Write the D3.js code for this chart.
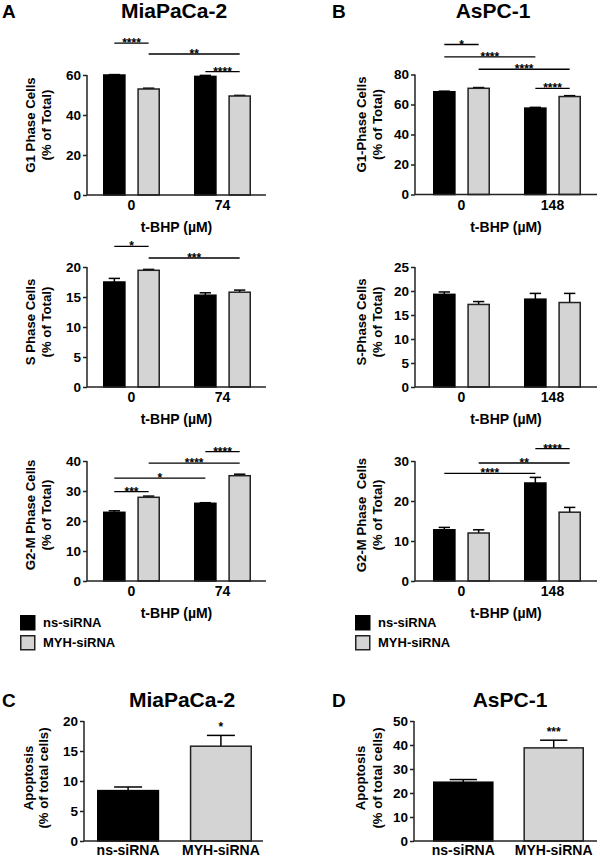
<!DOCTYPE html>
<html>
<head>
<meta charset="utf-8">
<script src="https://cdn.jsdelivr.net/npm/d3@7"></script>
<style>
  html, body { margin: 0; padding: 0; background: #fff; }
  svg { display: block; }
  text { font-family: 'Liberation Sans', Arial, Helvetica, sans-serif; font-weight: bold; fill: #000; }
</style>
</head>
<body>
<svg id="chart" width="600" height="858"></svg>
<script>
// ---------------- DATA ----------------
const series = ["ns-siRNA", "MYH-siRNA"];
const doseMia = ["0", "74"];
const doseAs = ["0", "148"];

// G1 phase (% of total)
const g1MiaNs = [60.0, 59.3], g1MiaNsErr = [0.2, 0.5];
const g1MiaMyh = [53.0, 49.5], g1MiaMyhErr = [0.4, 0.3];
const g1AsNs = [68.5, 57.6], g1AsNsErr = [0.4, 0.5];
const g1AsMyh = [70.8, 65.3], g1AsMyhErr = [0.5, 0.6];

// S phase
const sMiaNs = [17.5, 15.3], sMiaNsErr = [0.6, 0.4];
const sMiaMyh = [19.45, 15.8], sMiaMyhErr = [0.15, 0.35];
const sAsNs = [19.3, 18.3], sAsNsErr = [0.5, 1.2];
const sAsMyh = [17.2, 17.6], sAsMyhErr = [0.6, 1.9];

// G2-M phase
const g2MiaNs = [22.9, 25.9], g2MiaNsErr = [0.5, 0.2];
const g2MiaMyh = [27.9, 35.1], g2MiaMyhErr = [0.4, 0.5];
const g2AsNs = [12.8, 24.5], g2AsNsErr = [0.6, 1.4];
const g2AsMyh = [12.0, 17.2], g2AsMyhErr = [0.8, 1.2];

// Apoptosis (% of total cells)
const apoMia = [8.4, 15.8], apoMiaErr = [0.6, 1.8];
const apoAs = [24.5, 38.8], apoAsErr = [1.1, 3.2];

// Y-axis ticks
const ticksG1Mia = [0, 20, 40, 60];
const ticksG1As = [0, 20, 40, 60, 80];
const ticksSMia = [0, 5, 10, 15, 20];
const ticksSAs = [0, 5, 10, 15, 20, 25];
const ticksG2Mia = [0, 10, 20, 30, 40];
const ticksG2As = [0, 10, 20, 30];
const ticksApoMia = [0, 5, 10, 15, 20];
const ticksApoAs = [0, 10, 20, 30, 40, 50];

// Significance brackets: [group, series] -> [group, series], level in data units
const sigG1Mia = [
  { a: [0, 0], b: [0, 1], level: 75.9, label: "****" },
  { a: [0, 1], b: [1, 1], level: 70.5, label: "**" },
  { a: [1, 0], b: [1, 1], level: 61.7, label: "****" }
];
const sigG1As = [
  { a: [0, 0], b: [0, 1], level: 100, label: "*" },
  { a: [0, 0], b: [1, 0], level: 91.7, label: "****" },
  { a: [0, 1], b: [1, 1], level: 83.5, label: "****" },
  { a: [1, 0], b: [1, 1], level: 70.7, label: "****" }
];
const sigSMia = [
  { a: [0, 0], b: [0, 1], level: 23.45, label: "*" },
  { a: [0, 1], b: [1, 1], level: 21.5, label: "***" }
];
const sigSAs = [];
const sigG2Mia = [
  { a: [1, 0], b: [1, 1], level: 43.1, label: "****" },
  { a: [0, 1], b: [1, 1], level: 39.3, label: "****" },
  { a: [0, 0], b: [1, 0], level: 34.3, label: "*" },
  { a: [0, 0], b: [0, 1], level: 29.8, label: "***" }
];
const sigG2As = [
  { a: [1, 0], b: [1, 1], level: 33.1, label: "****" },
  { a: [0, 1], b: [1, 1], level: 29.5, label: "**" },
  { a: [0, 0], b: [1, 0], level: 26.9, label: "****" }
];
const sigApoMia = ["", "*"];
const sigApoAs = ["", "***"];

// ---------------- DRAWING ----------------
const svg = d3.select("#chart");
const fills = ["#000000", "#d4d4d4"];
const strokes = ["#000000", "#222222"];
const PH = 120; // plot height

function yAxis(g, y, x0, ticks, domainMax) {
  const ax = d3.axisLeft(y).tickValues(ticks).tickSize(4).tickPadding(2).tickFormat(d3.format("d"));
  const gg = g.append("g").attr("transform", `translate(${x0},0)`).call(ax);
  gg.select(".domain").remove();
  gg.append("line").attr("x1", 0).attr("x2", 0).attr("y1", y(0)).attr("y2", y(domainMax))
    .attr("stroke", "#222").attr("stroke-width", 1.5);
  gg.selectAll(".tick line").attr("stroke", "#222").attr("stroke-width", 1.5);
  gg.selectAll(".tick text").attr("font-size", 13.5).attr("font-family", null).attr("fill", "#000");
}

function yLabel(g, lines, xs, cy) {
  lines.forEach((t, i) => {
    g.append("text").attr("transform", `translate(${xs[i]},${cy}) rotate(-90)`)
      .attr("text-anchor", "middle").attr("dy", "0.35em").attr("font-size", 13.2)
      .style("white-space", "pre").text(t);
  });
}

function groupedPanel(o) {
  const g = svg.append("g");
  const y = d3.scaleLinear().domain([0, o.max]).range([o.y0, o.y0 - PH]);
  const outer = d3.scaleBand().domain(o.groups).range(o.bandRange).paddingInner(0.374).paddingOuter(0);
  const inner = d3.scaleBand().domain(series).range([0, outer.bandwidth()]).paddingInner(0.34).paddingOuter(0);
  const data = [];
  o.groups.forEach((gr, gi) => {
    series.forEach((s, si) => {
      data.push({ gr, s, si, gi, v: o.vals[si][gi], e: o.errs[si][gi] });
    });
  });
  const cx = (gi, si) => outer(o.groups[gi]) + inner(series[si]) + inner.bandwidth() / 2;
  // error bars
  data.forEach(d => {
    const x = cx(d.gi, d.si);
    const cw = inner.bandwidth() * 0.5;
    g.append("line").attr("x1", x).attr("x2", x).attr("y1", y(d.v)).attr("y2", y(d.v + d.e))
      .attr("stroke", "#000").attr("stroke-width", 1.5);
    g.append("line").attr("x1", x - cw / 2).attr("x2", x + cw / 2).attr("y1", y(d.v + d.e)).attr("y2", y(d.v + d.e))
      .attr("stroke", "#000").attr("stroke-width", 1.5);
  });
  g.selectAll("rect.bar").data(data).enter().append("rect").attr("class", "bar")
    .attr("x", d => outer(d.gr) + inner(d.s) + 0.75)
    .attr("width", inner.bandwidth() - 1.5)
    .attr("y", d => y(d.v))
    .attr("height", d => y(0) - y(d.v))
    .attr("fill", d => fills[d.si]).attr("stroke", d => strokes[d.si]).attr("stroke-width", 1.5);
  // x axis line
  g.append("line").attr("x1", o.x0).attr("x2", o.xEnd).attr("y1", o.y0).attr("y2", o.y0)
    .attr("stroke", "#222").attr("stroke-width", 1.5);
  yAxis(g, y, o.x0, o.ticks, o.max);
  // x tick labels
  o.groups.forEach(gr => {
    g.append("text").attr("x", outer(gr) + outer.bandwidth() / 2).attr("y", o.y0 + 15)
      .attr("text-anchor", "middle").attr("font-size", 14).text(gr);
  });
  g.append("text").attr("x", (o.x0 + o.xEnd) / 2).attr("y", o.y0 + 37)
    .attr("text-anchor", "middle").attr("font-size", 14).text("t-BHP (\u00B5M)");
  yLabel(g, o.ylabel, o.ylx, o.y0 - o.ylOff);
  // significance
  o.sig.forEach(s => {
    const xa = cx(s.a[0], s.a[1]), xb = cx(s.b[0], s.b[1]);
    const yy = y(s.level);
    g.append("line").attr("x1", xa).attr("x2", xb).attr("y1", yy).attr("y2", yy)
      .attr("stroke", "#000").attr("stroke-width", 1.3);
    g.append("text").attr("x", (xa + xb) / 2).attr("y", yy + 4).attr("text-anchor", "middle")
      .attr("font-size", 12).text(s.label);
  });
}

function simplePanel(o) {
  const g = svg.append("g");
  const y = d3.scaleLinear().domain([0, o.max]).range([o.y0, o.y0 - PH]);
  const x = d3.scaleBand().domain(series).range(o.bandRange).paddingInner(0.33).paddingOuter(0);
  const data = series.map((s, i) => ({ s, i, v: o.vals[i], e: o.errs[i], sig: o.sig[i] }));
  data.forEach(d => {
    const cx = x(d.s) + x.bandwidth() / 2;
    const cw = x.bandwidth() * 0.45;
    g.append("line").attr("x1", cx).attr("x2", cx).attr("y1", y(d.v)).attr("y2", y(d.v + d.e))
      .attr("stroke", "#000").attr("stroke-width", 1.5);
    g.append("line").attr("x1", cx - cw / 2).attr("x2", cx + cw / 2).attr("y1", y(d.v + d.e)).attr("y2", y(d.v + d.e))
      .attr("stroke", "#000").attr("stroke-width", 1.5);
    if (d.sig) {
      g.append("text").attr("x", cx).attr("y", y(d.v + d.e) - 4).attr("text-anchor", "middle")
        .attr("font-size", 12).text(d.sig);
    }
  });
  g.selectAll("rect.bar").data(data).enter().append("rect")
    .attr("x", d => x(d.s) + 0.75).attr("width", x.bandwidth() - 1.5)
    .attr("y", d => y(d.v)).attr("height", d => y(0) - y(d.v))
    .attr("fill", d => fills[d.i]).attr("stroke", d => strokes[d.i]).attr("stroke-width", 1.5);
  g.append("line").attr("x1", o.x0).attr("x2", o.xEnd).attr("y1", o.y0).attr("y2", o.y0)
    .attr("stroke", "#222").attr("stroke-width", 1.5);
  yAxis(g, y, o.x0, o.ticks, o.max);
  series.forEach(s => {
    g.append("text").attr("x", x(s) + x.bandwidth() / 2).attr("y", o.y0 + 14)
      .attr("text-anchor", "middle").attr("font-size", 14).text(s);
  });
  yLabel(g, o.ylabel, o.ylx, o.y0 - 63);
}

function title(letter, lx, name, cx, yb) {
  svg.append("text").attr("x", lx).attr("y", yb).attr("font-size", 19).text(letter);
  svg.append("text").attr("x", cx).attr("y", yb).attr("text-anchor", "middle").attr("font-size", 21).text(name);
}

function legend(x, y) {
  series.forEach((s, i) => {
    svg.append("rect").attr("x", x + 0.75).attr("y", y + i * 20 + 0.75).attr("width", 14).attr("height", 14)
      .attr("fill", fills[i]).attr("stroke", strokes[i]).attr("stroke-width", 1.5);
    svg.append("text").attr("x", x + 23).attr("y", y + i * 20 + 12).attr("font-size", 13).text(s);
  });
}

// Titles
title("A", 2, "MiaPaCa-2", 174, 18);
title("B", 332, "AsPC-1", 493, 18);
title("C", 2, "MiaPaCa-2", 182, 707);
title("D", 332, "AsPC-1", 510, 707);

const colA = { x0: 87, xEnd: 266, bandRange: [103, 251], ylx: [30, 46] };
const colB = { x0: 415, xEnd: 597, bandRange: [433, 581], ylx: [361, 377] };

groupedPanel(Object.assign({}, colA, { y0: 195, max: 60, ticks: ticksG1Mia, groups: doseMia,
  vals: [g1MiaNs, g1MiaMyh], errs: [g1MiaNsErr, g1MiaMyhErr], ylabel: ["G1 Phase Cells", "(% of Total)"], ylOff: 70, sig: sigG1Mia }));
groupedPanel(Object.assign({}, colB, { y0: 194.5, max: 80, ticks: ticksG1As, groups: doseAs,
  vals: [g1AsNs, g1AsMyh], errs: [g1AsNsErr, g1AsMyhErr], ylabel: ["G1-Phase Cells", "(% of Total)"], ylOff: 70, sig: sigG1As }));
groupedPanel(Object.assign({}, colA, { y0: 387, max: 20, ticks: ticksSMia, groups: doseMia,
  vals: [sMiaNs, sMiaMyh], errs: [sMiaNsErr, sMiaMyhErr], ylabel: ["S Phase Cells", "(% of Total)"], ylOff: 65, sig: sigSMia }));
groupedPanel(Object.assign({}, colB, { y0: 387, max: 25, ticks: ticksSAs, groups: doseAs,
  vals: [sAsNs, sAsMyh], errs: [sAsNsErr, sAsMyhErr], ylabel: ["S-Phase Cells", "(% of Total)"], ylOff: 65, sig: sigSAs }));
groupedPanel(Object.assign({}, colA, { y0: 581, max: 40, ticks: ticksG2Mia, groups: doseMia,
  vals: [g2MiaNs, g2MiaMyh], errs: [g2MiaNsErr, g2MiaMyhErr], ylabel: ["G2-M Phase Cells", "(% of Total)"], ylOff: 66, sig: sigG2Mia }));
groupedPanel(Object.assign({}, colB, { y0: 581, max: 30, ticks: ticksG2As, groups: doseAs,
  vals: [g2AsNs, g2AsMyh], errs: [g2AsNsErr, g2AsMyhErr], ylabel: ["G2-M Phase  Cells", "(% of Total)"], ylOff: 66, sig: sigG2As }));

legend(20, 615);
legend(355, 615);

simplePanel({ x0: 84, xEnd: 263, y0: 841, max: 20, ticks: ticksApoMia, bandRange: [97, 252],
  vals: apoMia, errs: apoMiaErr, sig: sigApoMia, ylabel: ["Apoptosis", "(% of total cells)"], ylx: [28.5, 43.5] });
simplePanel({ x0: 414, xEnd: 597, y0: 841, max: 50, ticks: ticksApoAs, bandRange: [433, 584],
  vals: apoAs, errs: apoAsErr, sig: sigApoAs, ylabel: ["Apoptosis", "(% of total cells)"], ylx: [360, 377] });
</script>
</body>
</html>
